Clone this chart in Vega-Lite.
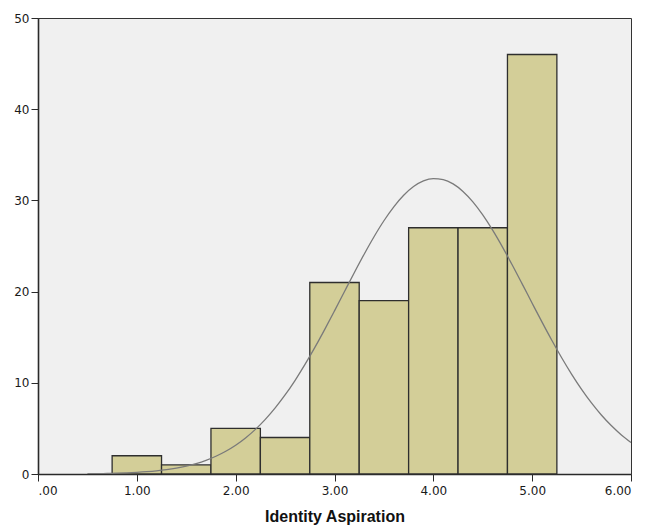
{
  "$schema": "https://vega.github.io/schema/vega-lite/v6.json",
  "autosize": "none",
  "width": 593,
  "height": 456,
  "padding": {"left": 38, "top": 18, "right": 14, "bottom": 53},
  "background": "#ffffff",
  "config": {
    "view": {"fill": "#F0F0F0", "stroke": "#333333", "strokeWidth": 1},
    "font": "Liberation Sans",
    "axis": {
      "labelFont": "DejaVu Sans",
      "labelFontSize": 12,
      "labelColor": "#1A1A1A",
      "domainColor": "#2A2A2A",
      "domainWidth": 1.6,
      "tickColor": "#2A2A2A",
      "tickSize": 7,
      "grid": false
    }
  },
  "datasets": {
    "bars": [
      {"lo": 0.75, "hi": 1.25, "count": 2},
      {"lo": 1.25, "hi": 1.75, "count": 1},
      {"lo": 1.75, "hi": 2.25, "count": 5},
      {"lo": 2.25, "hi": 2.75, "count": 4},
      {"lo": 2.75, "hi": 3.25, "count": 21},
      {"lo": 3.25, "hi": 3.75, "count": 19},
      {"lo": 3.75, "hi": 4.25, "count": 27},
      {"lo": 4.25, "hi": 4.75, "count": 27},
      {"lo": 4.75, "hi": 5.25, "count": 46}
    ],
    "curve": [
      {"x": 0.5, "y": 0.027}, {"x": 0.6, "y": 0.041}, {"x": 0.7, "y": 0.060}, {"x": 0.8, "y": 0.087},
      {"x": 0.9, "y": 0.125}, {"x": 1.0, "y": 0.178}, {"x": 1.1, "y": 0.250}, {"x": 1.2, "y": 0.346},
      {"x": 1.3, "y": 0.475}, {"x": 1.4, "y": 0.644}, {"x": 1.5, "y": 0.864}, {"x": 1.6, "y": 1.145},
      {"x": 1.7, "y": 1.501}, {"x": 1.8, "y": 1.945}, {"x": 1.9, "y": 2.493}, {"x": 2.0, "y": 3.156},
      {"x": 2.1, "y": 3.952}, {"x": 2.2, "y": 4.891}, {"x": 2.3, "y": 5.986}, {"x": 2.4, "y": 7.245},
      {"x": 2.5, "y": 8.665}, {"x": 2.6, "y": 10.249}, {"x": 2.7, "y": 11.985}, {"x": 2.8, "y": 13.856},
      {"x": 2.9, "y": 15.834}, {"x": 3.0, "y": 17.892}, {"x": 3.1, "y": 19.988}, {"x": 3.2, "y": 22.073},
      {"x": 3.3, "y": 24.101}, {"x": 3.4, "y": 26.017}, {"x": 3.5, "y": 27.767}, {"x": 3.6, "y": 29.296},
      {"x": 3.7, "y": 30.561}, {"x": 3.8, "y": 31.517}, {"x": 3.9, "y": 32.135}, {"x": 4.0, "y": 32.393},
      {"x": 4.1, "y": 32.282}, {"x": 4.2, "y": 31.806}, {"x": 4.3, "y": 30.982}, {"x": 4.4, "y": 29.837},
      {"x": 4.5, "y": 28.408}, {"x": 4.6, "y": 26.740}, {"x": 4.7, "y": 24.884}, {"x": 4.8, "y": 22.893},
      {"x": 4.9, "y": 20.825}, {"x": 5.0, "y": 18.727}, {"x": 5.1, "y": 16.649}, {"x": 5.2, "y": 14.636},
      {"x": 5.3, "y": 12.718}, {"x": 5.4, "y": 10.926}, {"x": 5.5, "y": 9.281}, {"x": 5.6, "y": 7.793},
      {"x": 5.7, "y": 6.470}, {"x": 5.8, "y": 5.311}, {"x": 5.9, "y": 4.310}, {"x": 6.0, "y": 3.457}
    ]
  },
  "layer": [
    {
      "data": {"name": "bars"},
      "mark": {"type": "rect", "fill": "#D3CE98", "stroke": "#2E2E2E", "strokeWidth": 1.3},
      "encoding": {
        "x": {
          "field": "lo", "type": "quantitative",
          "scale": {"domain": [0, 6], "nice": false, "zero": false},
          "axis": {
            "values": [0, 1, 2, 3, 4, 5, 6],
            "labelExpr": "datum.value == 0 ? '.00' : format(datum.value, '.2f')",
            "labelPadding": 4,
            "title": "Identity Aspiration",
            "titleFont": "Liberation Sans",
            "titleFontSize": 16,
            "titleFontWeight": "bold",
            "titleColor": "#111111",
            "titlePadding": 12
          }
        },
        "x2": {"field": "hi"},
        "y": {
          "field": "count", "type": "quantitative",
          "scale": {"domain": [0, 50], "nice": false},
          "axis": {"values": [0, 10, 20, 30, 40, 50], "title": null, "labelPadding": 2}
        },
        "y2": {"datum": 0}
      }
    },
    {
      "data": {"name": "curve"},
      "mark": {"type": "line", "color": "#7A7A7A", "strokeWidth": 1.3, "interpolate": "monotone", "clip": true},
      "encoding": {
        "x": {"field": "x", "type": "quantitative"},
        "y": {"field": "y", "type": "quantitative"}
      }
    }
  ]
}
